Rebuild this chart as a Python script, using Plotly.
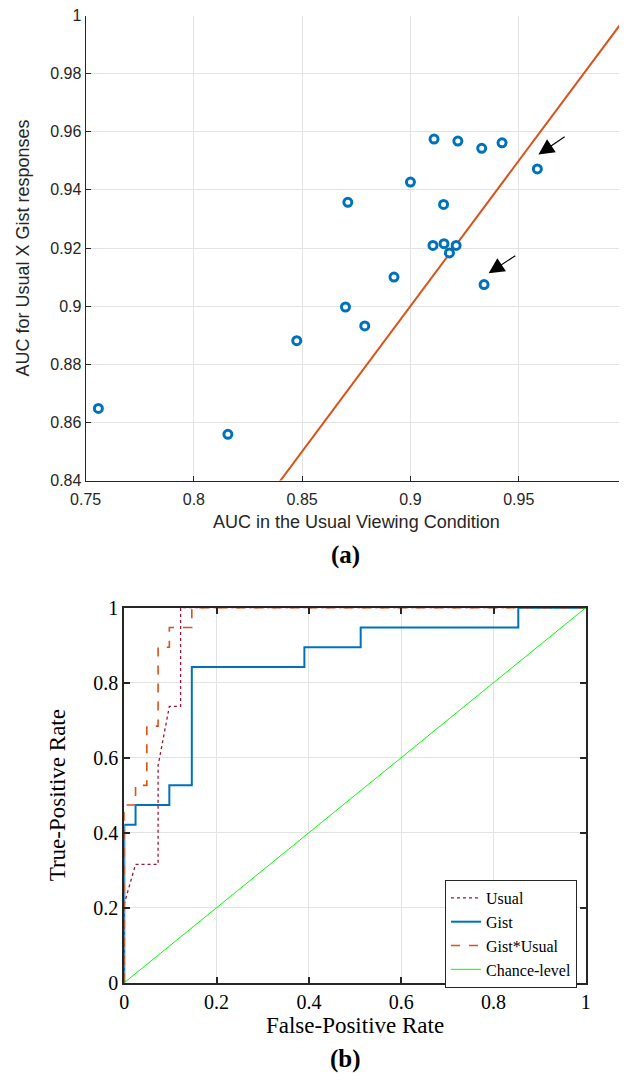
import plotly.graph_objects as go

# (a) AUC per observer
auc_usual = [0.7559, 0.8157, 0.8475, 0.8700, 0.8789, 0.8924, 0.9104, 0.9155, 0.9180, 0.9211,
             0.9340, 0.8711, 0.9000, 0.9109, 0.9219, 0.9329, 0.9423, 0.9586, 0.9153]
auc_gist = [0.8648, 0.8559, 0.8881, 0.8997, 0.8932, 0.9100, 0.9209, 0.9215, 0.9183, 0.9209,
            0.9074, 0.9357, 0.9427, 0.9575, 0.9568, 0.9543, 0.9562, 0.9472, 0.9350]
identity = [0.75, 1.0]

# arrows: (tail x, tail y, head x, head y)
arrows = [(0.9719, 0.9586, 0.9591, 0.9522),
          (0.9491, 0.9177, 0.9361, 0.9113)]

# (b) ROC curves
usual_fpr = [0, 0, 0.0244, 0.0732, 0.0732, 0.0976, 0.1220, 0.1220, 1.0]
usual_tpr = [0, 0.2105, 0.3158, 0.3158, 0.5789, 0.7368, 0.7368, 1.0, 1.0]

gist_fpr = [0, 0, 0.0244, 0.0244, 0.0976, 0.0976, 0.1463, 0.1463, 0.3902, 0.3902,
            0.5122, 0.5122, 0.8537, 0.8537, 1.0]
gist_tpr = [0, 0.4211, 0.4211, 0.4737, 0.4737, 0.5263, 0.5263, 0.8421, 0.8421, 0.8947,
            0.8947, 0.9474, 0.9474, 1.0, 1.0]

gu_fpr = [0, 0, 0.0244, 0.0244, 0.0488, 0.0488, 0.0732, 0.0732, 0.0976, 0.0976,
          0.1463, 0.1463, 1.0]
gu_tpr = [0, 0.4737, 0.4737, 0.5263, 0.5263, 0.6842, 0.6842, 0.8947, 0.8947, 0.9474,
          0.9474, 1.0, 1.0]

chance = [0, 1]

# the page body adds an 8px margin, so the figure is 8px smaller than the window
OFF = 8
W, H = 627 - OFF, 1090 - OFF
sans = "Liberation Sans"
serif = "Liberation Serif"


def px(x):
    return (x - OFF) / W


def py(y):
    return 1 - (y - OFF) / H


fig = go.Figure()

fig.add_trace(go.Scatter(x=identity, y=identity, mode="lines",
                         line=dict(color="#D95319", width=2),
                         xaxis="x", yaxis="y", showlegend=False))
fig.add_trace(go.Scatter(x=auc_usual, y=auc_gist, mode="markers",
                         marker=dict(symbol="circle", size=8, color="white",
                                     line=dict(color="#0072BD", width=3)),
                         xaxis="x", yaxis="y", showlegend=False))

fig.add_trace(go.Scatter(x=usual_fpr, y=usual_tpr, mode="lines", name="Usual",
                         line=dict(color="#A2142F", width=1.3, dash="dot"),
                         xaxis="x2", yaxis="y2"))
fig.add_trace(go.Scatter(x=gist_fpr, y=gist_tpr, mode="lines", name="Gist",
                         line=dict(color="#0072BD", width=2),
                         xaxis="x2", yaxis="y2"))
fig.add_trace(go.Scatter(x=gu_fpr, y=gu_tpr, mode="lines", name="Gist*Usual",
                         line=dict(color="#D95319", width=1.6, dash="dash"),
                         xaxis="x2", yaxis="y2"))
fig.add_trace(go.Scatter(x=chance, y=chance, mode="lines", name="Chance-level",
                         line=dict(color="#00FF00", width=1),
                         xaxis="x2", yaxis="y2"))

for tx, ty, hx, hy in arrows:
    fig.add_annotation(x=hx, y=hy, ax=tx, ay=ty, xref="x", yref="y", axref="x", ayref="y",
                       text="", showarrow=True, arrowhead=2, arrowsize=2.6,
                       arrowwidth=1.2, arrowcolor="black")

fig.add_annotation(text="<b>(a)</b>", x=px(345), y=py(555), xref="paper", yref="paper",
                   showarrow=False, font=dict(family=serif, size=25, color="black"))
fig.add_annotation(text="<b>(b)</b>", x=px(345), y=py(1075), xref="paper", yref="paper",
                   showarrow=False, font=dict(family=serif, size=25, color="black"))

grid = "#e3e3e3"
fig.update_layout(
    width=W, height=H,
    margin=dict(l=0, r=0, t=0, b=0),
    plot_bgcolor="white", paper_bgcolor="white",
    xaxis=dict(domain=[px(85.6), 1.0], range=[0.75, 1.0], anchor="y", automargin=False,
               tickvals=[0.75, 0.8, 0.85, 0.9, 0.95, 1.0],
               ticktext=["0.75", "0.8", "0.85", "0.9", "0.95", "1"],
               ticklabeloverflow="allow",
               showgrid=True, gridcolor=grid, zeroline=False,
               showline=True, linecolor="#262626", linewidth=1,
               ticks="inside", ticklen=5, tickcolor="#262626", ticklabelstandoff=4,
               tickfont=dict(family=sans, size=16, color="#262626"),
               title=dict(text="AUC in the Usual Viewing Condition", standoff=8,
                          font=dict(family=sans, size=18, color="#262626"))),
    yaxis=dict(domain=[py(480.5), py(15.5)], range=[0.84, 1.0], anchor="x",
               automargin=False, ticklabeloverflow="allow",
               tickvals=[0.84, 0.86, 0.88, 0.9, 0.92, 0.94, 0.96, 0.98, 1.0],
               ticktext=["0.84", "0.86", "0.88", "0.9", "0.92", "0.94", "0.96", "0.98", "1"],
               showgrid=True, gridcolor=grid, zeroline=False,
               showline=True, linecolor="#262626", linewidth=1,
               ticks="inside", ticklen=5, tickcolor="#262626",
               tickfont=dict(family=sans, size=16, color="#262626"),
               title=dict(text="AUC for Usual X Gist responses", standoff=15,
                          font=dict(family=sans, size=18, color="#262626"))),
    xaxis2=dict(domain=[px(124.3), px(585.8)], range=[0, 1], anchor="y2", automargin=False,
                tickvals=[0, 0.2, 0.4, 0.6, 0.8, 1.0],
                ticktext=["0", "0.2", "0.4", "0.6", "0.8", "1"],
                ticklabeloverflow="allow",
                showgrid=True, gridcolor=grid, zeroline=False,
                showline=True, linecolor="#262626", linewidth=2, mirror="ticks",
                ticks="inside", ticklen=6, tickwidth=2, tickcolor="#262626",
                tickfont=dict(family=serif, size=20, color="black"),
                title=dict(text="False-Positive Rate", standoff=4,
                           font=dict(family=serif, size=23, color="black"))),
    yaxis2=dict(domain=[py(982.7), py(607.7)], range=[0, 1], anchor="x2",
                automargin=False, ticklabeloverflow="allow",
                tickvals=[0, 0.2, 0.4, 0.6, 0.8, 1.0],
                ticktext=["0", "0.2", "0.4", "0.6", "0.8", "1"],
                showgrid=True, gridcolor=grid, zeroline=False,
                showline=True, linecolor="#262626", linewidth=2, mirror="ticks",
                ticks="inside", ticklen=6, tickwidth=2, tickcolor="#262626",
                tickfont=dict(family=serif, size=20, color="black"),
                title=dict(text="True-Positive Rate", standoff=21,
                           font=dict(family=serif, size=23, color="black"))),
    legend=dict(x=px(445), y=py(880), xanchor="left", yanchor="top",
                bgcolor="white", bordercolor="#262626", borderwidth=1,
                font=dict(family=serif, size=16, color="black"),
                tracegroupgap=0, itemwidth=30),
)

fig.write_html("out.html")
